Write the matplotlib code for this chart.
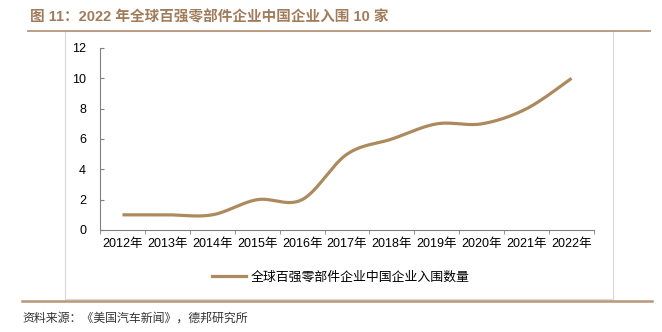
import numpy as np
import matplotlib
matplotlib.use("Agg")
import matplotlib.pyplot as plt
from matplotlib.patches import Rectangle
from matplotlib.lines import Line2D

plt.rcParams['font.family'] = ['Liberation Sans', 'Noto Sans CJK SC', 'DejaVu Sans']

# 数据
years = ['2012年', '2013年', '2014年', '2015年', '2016年', '2017年',
         '2018年', '2019年', '2020年', '2021年', '2022年']
counts = [1, 1, 1, 2, 2, 5, 6, 7, 7, 8, 10]
serie = '全球百强零部件企业中国企业入围数量'
titulo = '图 11：2022 年全球百强零部件企业中国企业入围 10 家'
fuente = '资料来源：《美国汽车新闻》，德邦研究所'

color_linea = '#AD8A5E'
color_titulo = '#A07C5A'
W, H = 662, 332


def suavizar(x, y, n=30):
    # curva suave tipo Excel (Catmull-Rom con Bezier)
    x = np.asarray(x, float)
    y = np.asarray(y, float)
    px, py = [], []
    for i in range(len(x) - 1):
        x0, y0 = (x[i - 1], y[i - 1]) if i > 0 else (x[i], y[i])
        x3, y3 = (x[i + 2], y[i + 2]) if i + 2 < len(x) else (x[i + 1], y[i + 1])
        x1, y1, x2, y2 = x[i], y[i], x[i + 1], y[i + 1]
        c1x, c1y = x1 + (x2 - x0) / 6, y1 + (y2 - y0) / 6
        c2x, c2y = x2 - (x3 - x1) / 6, y2 - (y3 - y1) / 6
        t = np.linspace(0, 1, n)
        px.extend((1 - t) ** 3 * x1 + 3 * (1 - t) ** 2 * t * c1x + 3 * (1 - t) * t ** 2 * c2x + t ** 3 * x2)
        py.extend((1 - t) ** 3 * y1 + 3 * (1 - t) ** 2 * t * c1y + 3 * (1 - t) * t ** 2 * c2y + t ** 3 * y2)
    return np.array(px), np.array(py)


fig = plt.figure(figsize=(W / 100, H / 100), dpi=100)

# marco y lineas
fig.add_artist(Rectangle((65 / W, 1 - 299 / H), (613 - 65) / W, (299 - 31) / H,
                         transform=fig.transFigure, fill=False, edgecolor='#D9D9D9', lw=0.8))
fig.add_artist(Line2D([28 / W, 650 / W], [1 - 31 / H, 1 - 31 / H], transform=fig.transFigure,
                      color='#B9967A', lw=1.3))
fig.add_artist(Line2D([22 / W, 652 / W], [1 - 301 / H, 1 - 301 / H], transform=fig.transFigure,
                      color='#B9967A', lw=1.8))

fig.text(30 / W, 1 - 17 / H, titulo, fontsize=10.5, fontweight='bold', color=color_titulo,
         va='center', ha='left', family=['Liberation Sans', 'Noto Sans CJK SC'])
fig.text(22 / W, 1 - 318 / H, fuente, fontsize=8.6, color='#333333', va='center', ha='left',
         family=['Noto Sans CJK SC'])

ax = fig.add_axes([100 / W, 1 - 230 / H, (594 - 100) / W, (230 - 48) / H])
x = np.arange(len(years))
sx, sy = suavizar(x, counts)
ax.plot(sx, sy, color=color_linea, lw=2.3, solid_capstyle='butt', label=serie)

ax.set_xlim(-0.5, len(years) - 0.5)
ax.set_ylim(0, 12)
ax.set_yticks(range(0, 13, 2))
ax.set_xticks(x)
ax.set_xticklabels(years)
ax.set_xticks(np.arange(-0.5, len(years), 1), minor=True)
ax.tick_params(axis='x', which='major', length=0, labelsize=9, pad=6, colors='black')
ax.tick_params(axis='x', which='minor', length=3, direction='out', color='#808080')
ax.tick_params(axis='y', length=3, direction='in', color='#808080', labelsize=9, pad=10)
for lado in ['top', 'right']:
    ax.spines[lado].set_visible(False)
for lado in ['left', 'bottom']:
    ax.spines[lado].set_color('#808080')
    ax.spines[lado].set_linewidth(0.8)

leg = fig.legend(handles=[Line2D([], [], color=color_linea, lw=2.3)], labels=[serie],
                 loc='center', bbox_to_anchor=(341 / W, 1 - 277 / H), frameon=False,
                 handlelength=2.6, handletextpad=0.4, prop={'family': 'Noto Sans CJK SC', 'size': 9.3})

fig.savefig('out.png', dpi=100)
